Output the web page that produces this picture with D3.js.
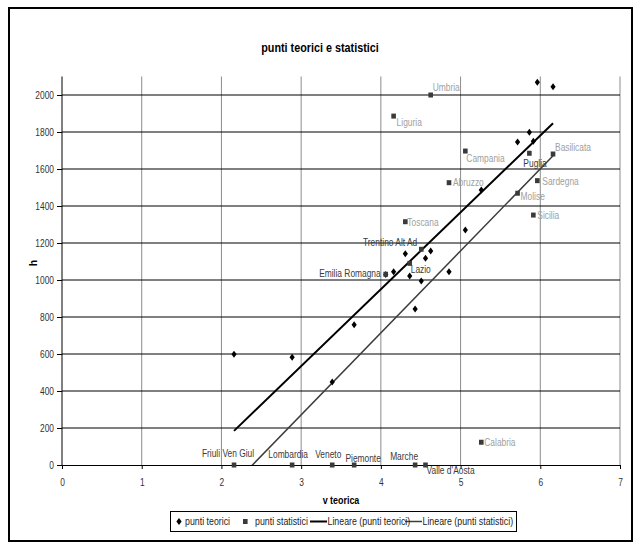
<!DOCTYPE html>
<html>
<head>
<meta charset="utf-8">
<script src="https://cdn.jsdelivr.net/npm/d3@7"></script>
<style>
  body { margin: 0; background: #fff; }
  text { font-family: "Liberation Sans", Arial, sans-serif; }
</style>
</head>
<body>
<svg id="chart" width="640" height="553"></svg>
<script>
// Regions, theoretical velocity and the two heights (theoretical / statistical)
const regions = ["Umbria", "Liguria", "Campania", "Puglia", "Basilicata", "Abruzzo", "Sardegna",
  "Molise", "Sicilia", "Toscana", "Trentino Alt Ad", "Lazio", "Emilia Romagna", "Calabria",
  "Friuli Ven Giul", "Lombardia", "Veneto", "Piemonte", "Marche", "Valle d'Aosta"];
const vTeorica = [4.625, 4.16, 5.06, 5.863, 6.16, 4.855, 5.963,
  5.715, 5.913, 4.307, 4.507, 4.362, 4.061, 5.26,
  2.158, 2.887, 3.39, 3.665, 4.43, 4.56];
const hTeorici = [1157, 1045, 1270, 1798, 2045, 1045, 2069,
  1746, 1750, 1142, 995, 1022, 1030, 1486,
  598, 582, 449, 758, 843, 1117];
const hStatistici = [2000, 1886, 1697, 1685, 1681, 1526, 1537,
  1469, 1351, 1315, 1166, 1090, 1031, 123,
  0, 0, 0, 0, 0, 0];

const xTicks = [0, 1, 2, 3, 4, 5, 6, 7];
const yTicks = [0, 200, 400, 600, 800, 1000, 1200, 1400, 1600, 1800, 2000];
const legendItems = ["punti teorici", "punti statistici", "Lineare (punti teorici)", "Lineare (punti statistici)"];

// Placement of each region label around its square marker
const labelPlacement = {
  "Umbria":          { dx: 2,  dy: -4,  anchor: "start",  tone: "light" },
  "Liguria":         { dx: 3,  dy: 10,  anchor: "start",  tone: "light" },
  "Campania":        { dx: 1,  dy: 11,  anchor: "start",  tone: "light" },
  "Puglia":          { dx: -6, dy: 14,  anchor: "start",  tone: "dark"  },
  "Basilicata":      { dx: 2,  dy: -3,  anchor: "start",  tone: "light" },
  "Abruzzo":         { dx: 4,  dy: 3,   anchor: "start",  tone: "light" },
  "Sardegna":        { dx: 5,  dy: 4,   anchor: "start",  tone: "light" },
  "Molise":          { dx: 3,  dy: 7,   anchor: "start",  tone: "light" },
  "Sicilia":         { dx: 4,  dy: 4,   anchor: "start",  tone: "light" },
  "Toscana":         { dx: 2,  dy: 4,   anchor: "start",  tone: "light" },
  "Trentino Alt Ad": { dx: -4, dy: -3,  anchor: "end",    tone: "dark"  },
  "Lazio":           { dx: 1,  dy: 10,  anchor: "start",  tone: "dark"  },
  "Emilia Romagna":  { dx: -5, dy: 3,   anchor: "end",    tone: "dark"  },
  "Calabria":        { dx: 3,  dy: 4,   anchor: "start",  tone: "light" },
  "Friuli Ven Giul": { dx: -6, dy: -8,  anchor: "middle", tone: "dark"  },
  "Lombardia":       { dx: -4, dy: -7,  anchor: "middle", tone: "dark"  },
  "Veneto":          { dx: -4, dy: -7,  anchor: "middle", tone: "dark"  },
  "Piemonte":        { dx: 9,  dy: -3,  anchor: "middle", tone: "dark"  },
  "Marche":          { dx: 3,  dy: -5,  anchor: "end",    tone: "dark"  },
  "Valle d'Aosta":   { dx: 1,  dy: 9,   anchor: "start",  tone: "dark"  }
};

// Horizontally condense text (narrow face look) while keeping its anchor point
function condense(sel, sx) {
  sel.each(function () {
    const t = d3.select(this);
    const xv = +t.attr("x") || 0;
    const tr = t.attr("transform") || "";
    t.attr("x", xv / sx).attr("transform", `${tr} scale(${sx},1)`.trim());
  });
  return sel;
}

const svg = d3.select("#chart");
const W = 640, H = 553;
const plot = { left: 62, right: 620, top: 76.5, bottom: 465 };

svg.append("rect").attr("width", W).attr("height", H).attr("fill", "#fff");
// chart frame
svg.append("rect").attr("x", 9).attr("y", 8).attr("width", 623).attr("height", 533)
  .attr("fill", "none").attr("stroke", "#000").attr("stroke-width", 2);

const x = d3.scaleLinear().domain([0, 7]).range([plot.left, plot.right]);
const y = d3.scaleLinear().domain([0, 2100]).range([plot.bottom, plot.top]);

// title
condense(svg.append("text").attr("x", 320).attr("y", 52).attr("text-anchor", "middle")
  .attr("font-size", 13.5).attr("font-weight", "bold").attr("fill", "#000")
  .text("punti teorici e statistici"), 0.8);

// gridlines
const grid = svg.append("g");
grid.selectAll("line.v").data(xTicks.slice(1)).join("line")
  .attr("x1", d => x(d)).attr("x2", d => x(d))
  .attr("y1", plot.top).attr("y2", plot.bottom)
  .attr("stroke", "#8c8c8c").attr("stroke-width", 1);
grid.selectAll("line.h").data(yTicks.slice(1)).join("line")
  .attr("x1", plot.left).attr("x2", plot.right)
  .attr("y1", d => y(d)).attr("y2", d => y(d))
  .attr("stroke", "#000").attr("stroke-width", 1);

// axes
const xAxis = svg.append("g").attr("transform", `translate(0,${plot.bottom})`)
  .call(d3.axisBottom(x).tickValues(xTicks).tickSize(4).tickPadding(9.5).tickFormat(d3.format("d")));
const yAxis = svg.append("g").attr("transform", `translate(${plot.left},0)`)
  .call(d3.axisLeft(y).tickValues(yTicks).tickSize(5).tickPadding(3).tickFormat(d3.format("d")));
yAxis.select(".domain").attr("d", `M0,${plot.top}V${plot.bottom}`);
[xAxis, yAxis].forEach(a => {
  a.select(".domain").attr("stroke", "#000");
  a.selectAll(".tick line").attr("stroke", "#000");
  a.selectAll(".tick text").attr("font-size", 10.5).attr("fill", "#333")
    .attr("font-family", "\"Liberation Sans\", Arial, sans-serif");
  condense(a.selectAll(".tick text"), 0.8);
});

// axis titles
condense(svg.append("text").attr("x", (plot.left + plot.right) / 2).attr("y", 504)
  .attr("text-anchor", "middle").attr("font-size", 10.5).attr("font-weight", "bold")
  .text("v teorica"), 0.85);
svg.append("text").attr("transform", "translate(37,263) rotate(-90)")
  .attr("text-anchor", "middle").attr("font-size", 10.5).attr("font-weight", "bold")
  .text("h");

// least-squares fit
function linearFit(xs, ys) {
  const mx = d3.mean(xs), my = d3.mean(ys);
  let sxy = 0, sxx = 0;
  xs.forEach((v, i) => { sxy += (v - mx) * (ys[i] - my); sxx += (v - mx) * (v - mx); });
  const slope = sxy / sxx;
  return { slope, intercept: my - slope * mx };
}

svg.append("clipPath").attr("id", "plotClip").append("rect")
  .attr("x", plot.left).attr("y", plot.top)
  .attr("width", plot.right - plot.left).attr("height", plot.bottom - plot.top);

const trendLayer = svg.append("g").attr("clip-path", "url(#plotClip)");
const line = d3.line().x(d => x(d[0])).y(d => y(d[1]));
function drawTrend(ys, color, width) {
  const f = linearFit(vTeorica, ys);
  const [x0, x1] = d3.extent(vTeorica);
  trendLayer.append("path")
    .attr("d", line([[x0, f.intercept + f.slope * x0], [x1, f.intercept + f.slope * x1]]))
    .attr("fill", "none").attr("stroke", color).attr("stroke-width", width);
}
drawTrend(hTeorici, "#000", 2);
drawTrend(hStatistici, "#3c3c3c", 1.5);

// markers
const diamond = "M0,-3.5L2.6,0L0,3.5L-2.6,0Z";
svg.append("g").selectAll("path").data(regions).join("path")
  .attr("d", diamond)
  .attr("transform", (d, i) => `translate(${x(vTeorica[i])},${y(hTeorici[i])})`)
  .attr("fill", "#000");

svg.append("g").selectAll("rect").data(regions).join("rect")
  .attr("x", (d, i) => x(vTeorica[i]) - 2.3).attr("y", (d, i) => y(hStatistici[i]) - 2.5)
  .attr("width", 4.6).attr("height", 5).attr("fill", "#3a3a3a");

// region labels
condense(svg.append("g").selectAll("text").data(regions).join("text")
  .attr("x", (d, i) => x(vTeorica[i]) + labelPlacement[d].dx)
  .attr("y", (d, i) => y(hStatistici[i]) + labelPlacement[d].dy)
  .attr("text-anchor", d => labelPlacement[d].anchor)
  .attr("font-size", 10.5)
  .attr("fill", d => labelPlacement[d].tone === "light" ? "#a0a0a0" : "#3a3a3a")
  .text(d => d), 0.8);

// legend
const lg = svg.append("g");
lg.append("rect").attr("x", 170.5).attr("y", 511.5).attr("width", 346).attr("height", 20)
  .attr("fill", "#fff").attr("stroke", "#000").attr("stroke-width", 1);
const ly = 521.5;
lg.append("path").attr("d", diamond).attr("transform", `translate(179,${ly})`).attr("fill", "#000");
lg.append("rect").attr("x", 243).attr("y", ly - 2.5).attr("width", 4.6).attr("height", 5).attr("fill", "#3a3a3a");
lg.append("line").attr("x1", 310).attr("x2", 327).attr("y1", ly).attr("y2", ly)
  .attr("stroke", "#000").attr("stroke-width", 2);
lg.append("line").attr("x1", 405).attr("x2", 422).attr("y1", ly).attr("y2", ly)
  .attr("stroke", "#3c3c3c").attr("stroke-width", 1.5);
const legendX = [185, 255, 327.5, 422.5];
condense(lg.selectAll("text.item").data(legendItems).join("text")
  .attr("class", "item")
  .attr("x", (d, i) => legendX[i]).attr("y", ly + 3.8)
  .attr("font-size", 10.5).attr("fill", "#222")
  .text(d => d), 0.84);
</script>
</body>
</html>
